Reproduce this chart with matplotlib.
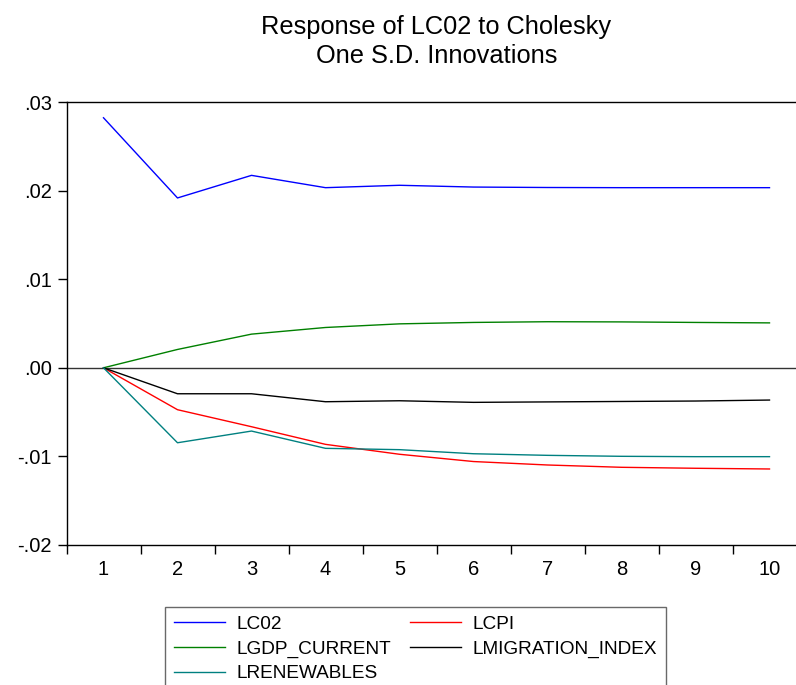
import matplotlib
matplotlib.use("Agg")
import matplotlib.pyplot as plt
from matplotlib.ticker import FixedLocator, FuncFormatter

plt.rcParams['font.family'] = ['Liberation Sans', 'DejaVu Sans']

periods = [1, 2, 3, 4, 5, 6, 7, 8, 9, 10]
lc02 = [0.02822, 0.01917, 0.02172, 0.02033, 0.02060, 0.02040, 0.02035, 0.02033, 0.02033, 0.02033]
lcpi = [0.0, -0.00473, -0.00665, -0.00864, -0.00976, -0.01058, -0.01097, -0.01123, -0.01134, -0.01142]
lgdp = [0.0, 0.00207, 0.00380, 0.00455, 0.00496, 0.00512, 0.00520, 0.00518, 0.00512, 0.00507]
lmig = [0.0, -0.00293, -0.00293, -0.00383, -0.00372, -0.00390, -0.00385, -0.00380, -0.00375, -0.00364]
lren = [0.0, -0.00846, -0.00714, -0.00909, -0.00924, -0.00970, -0.00988, -0.00999, -0.01003, -0.01003]

series = [
    ("LC02", lc02, "#0000FF"),
    ("LCPI", lcpi, "#FF0000"),
    ("LGDP_CURRENT", lgdp, "#008000"),
    ("LMIGRATION_INDEX", lmig, "#000000"),
    ("LRENEWABLES", lren, "#008080"),
]
yticks = [-0.02, -0.01, 0.0, 0.01, 0.02, 0.03]
title = "Response of LC02 to Cholesky\nOne S.D. Innovations"

W, H = 796, 685
fig = plt.figure(figsize=(W / 100, H / 100), dpi=100)
left, right, top, bottom = 66.5, 806.5, 102, 545
ax = fig.add_axes([left / W, 1 - bottom / H, (right - left) / W, (bottom - top) / H])

handles = {}
for name, vals, col in series:
    handles[name], = ax.plot(periods, vals, color=col, lw=1.0, label=name)

ax.axhline(0, color="#333333", lw=1.0, zorder=1)
ax.set_xlim(0.5, 10.5)
ax.set_ylim(-0.02, 0.03)

ax.set_xticks(periods)
ax.xaxis.set_minor_locator(FixedLocator([p - 0.5 for p in periods] + [10.5]))
ax.tick_params(axis='x', which='major', length=0, pad=11, labelsize=14.5)
ax.tick_params(axis='x', which='minor', length=6.5, width=1.0, direction='out')
ax.set_yticks(yticks)
ax.yaxis.set_major_formatter(FuncFormatter(lambda v, p: ("%.2f" % v).replace("0.", ".")))
ax.tick_params(axis='y', length=6.5, width=1.0, direction='out', pad=4, labelsize=14.5)

for s in ax.spines.values():
    s.set_linewidth(1.0)

fig.text((left + right) / 2 / W, 1 - 15 / H, title, ha='center', va='top',
         fontsize=18.3, linespacing=1.25)

order = ["LC02", "LGDP_CURRENT", "LRENEWABLES", "LCPI", "LMIGRATION_INDEX"]
leg = fig.legend([handles[n] for n in order], order,
                 loc='upper left', bbox_to_anchor=(165 / W, 1 - 607 / H), ncol=2,
                 fontsize=13.7, frameon=True, fancybox=False, handlelength=2.7,
                 handletextpad=0.6, columnspacing=1.0, labelspacing=0.38,
                 borderpad=0.45, borderaxespad=0)
leg.get_frame().set_edgecolor("#444444")
leg.get_frame().set_linewidth(1.0)

fig.savefig("out.png", dpi=100)
